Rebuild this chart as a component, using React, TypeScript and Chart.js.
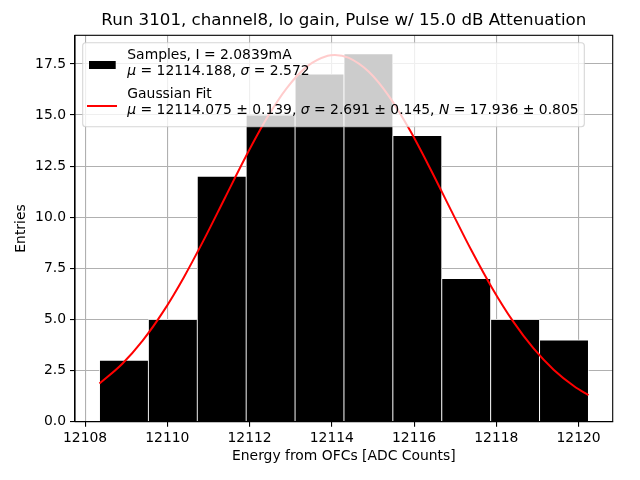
import React, { useEffect, useRef } from "react";
import { Chart, registerables } from "chart.js";

Chart.register(...registerables);

// Histogram bins (centers) and counts
const binCenters = [12108.945, 12110.134, 12111.323, 12112.512, 12113.701, 12114.89, 12116.079, 12117.268, 12118.457, 12119.646];
const binCounts = [3, 5, 12, 15, 17, 18, 14, 7, 5, 4];

// Gaussian fit curve points
const fitX = [12108.35, 12108.9, 12109.4, 12109.9, 12110.4, 12110.9, 12111.4, 12111.9, 12112.4, 12112.9, 12113.4, 12113.9, 12114.075, 12114.4, 12114.9, 12115.4, 12115.9, 12116.4, 12116.9, 12117.4, 12117.9, 12118.4, 12118.9, 12119.4, 12119.9, 12120.24];
const fitY = [1.866, 2.823, 3.966, 5.383, 7.059, 8.942, 10.944, 12.937, 14.777, 16.305, 17.38, 17.898, 17.936, 17.806, 17.113, 15.888, 14.251, 12.349, 10.338, 8.36, 6.531, 4.93, 3.595, 2.532, 1.723, 1.3];

const titleText = "Run 3101, channel8, lo gain, Pulse w/ 15.0 dB Attenuation";
const xTitle = "Energy from OFCs [ADC Counts]";
const yTitle = "Entries";
const xRange = [12107.755, 12120.83];
const yRange = [0, 18.9];

type Seg = { t: string; i?: boolean };
const legendSamples: Seg[][] = [
  [{ t: "Samples, I = 2.0839mA" }],
  [{ t: "μ", i: true }, { t: " = 12114.188, " }, { t: "σ", i: true }, { t: " = 2.572" }],
];
const legendFit: Seg[][] = [
  [{ t: "Gaussian Fit" }],
  [
    { t: "μ", i: true },
    { t: " = 12114.075 ± 0.139, " },
    { t: "σ", i: true },
    { t: " = 2.691 ± 0.145, " },
    { t: "N", i: true },
    { t: " = 17.936 ± 0.805" },
  ],
];

const FONT = "DejaVu Sans";
const FS = 13.9;

function drawSegs(ctx: CanvasRenderingContext2D, segs: Seg[], x: number, y: number) {
  let cx = x;
  for (const s of segs) {
    ctx.font = `${s.i ? "italic " : ""}${FS}px "${FONT}"`;
    ctx.fillText(s.t, cx, y);
    cx += ctx.measureText(s.t).width;
  }
}

const framePlugin = {
  id: "frameAndLegend",
  afterDraw(chart: any) {
    const ctx: CanvasRenderingContext2D = chart.ctx;
    const a = chart.chartArea;
    ctx.save();
    ctx.strokeStyle = "#000";
    ctx.lineWidth = 1.1;
    ctx.strokeRect(a.left, a.top, a.right - a.left, a.bottom - a.top);

    // legend box
    const bx = 82.7, by = 42.7, bw = 584.3 - 82.7, bh = 126.7 - 42.7, r = 3;
    ctx.beginPath();
    ctx.moveTo(bx + r, by);
    ctx.lineTo(bx + bw - r, by);
    ctx.arcTo(bx + bw, by, bx + bw, by + r, r);
    ctx.lineTo(bx + bw, by + bh - r);
    ctx.arcTo(bx + bw, by + bh, bx + bw - r, by + bh, r);
    ctx.lineTo(bx + r, by + bh);
    ctx.arcTo(bx, by + bh, bx, by + bh - r, r);
    ctx.lineTo(bx, by + r);
    ctx.arcTo(bx, by, bx + r, by, r);
    ctx.closePath();
    ctx.fillStyle = "rgba(255,255,255,0.8)";
    ctx.fill();
    ctx.strokeStyle = "rgba(204,204,204,0.8)";
    ctx.lineWidth = 1.1;
    ctx.stroke();

    // handles
    ctx.fillStyle = "#000";
    ctx.fillRect(89, 61, 26.7, 8);
    ctx.strokeStyle = "#ff0000";
    ctx.lineWidth = 2;
    ctx.beginPath();
    ctx.moveTo(87, 106);
    ctx.lineTo(117, 106);
    ctx.stroke();

    // texts
    ctx.fillStyle = "#000";
    ctx.textBaseline = "middle";
    ctx.textAlign = "left";
    const tx = 127.3;
    drawSegs(ctx, legendSamples[0], tx, 55);
    drawSegs(ctx, legendSamples[1], tx, 71.5);
    drawSegs(ctx, legendFit[0], tx, 94);
    drawSegs(ctx, legendFit[1], tx, 110.5);
    ctx.restore();
  },
};

export default function App() {
  const ref = useRef<HTMLCanvasElement | null>(null);
  useEffect(() => {
    if (!ref.current) return;
    Chart.defaults.font.family = FONT;
    const chart = new Chart(ref.current, {
      type: "bar",
      data: {
        datasets: [
          {
            type: "line",
            label: "Gaussian Fit",
            data: fitX.map((x, i) => ({ x, y: fitY[i] })),
            borderColor: "#ff0000",
            borderWidth: 2,
            pointRadius: 0,
            cubicInterpolationMode: "monotone",
            fill: false,
            order: 0,
          } as any,
          {
            type: "bar",
            label: "Samples",
            data: binCenters.map((x, i) => ({ x, y: binCounts[i] })),
            backgroundColor: "#000000",
            borderColor: "#ffffff",
            borderWidth: 0.8,
            barPercentage: 1,
            categoryPercentage: 1,
            order: 1,
          } as any,
        ],
      },
      options: {
        responsive: false,
        animation: false,
        layout: { padding: { left: 0, right: 27.3, top: 0, bottom: 0 } },
        plugins: {
          legend: { display: false },
          tooltip: { enabled: false },
          title: {
            display: true,
            text: titleText,
            fullSize: false,
            color: "#000",
            font: { family: FONT, size: 16.67, weight: "normal" },
            padding: { top: 11, bottom: 4.3 },
          },
        },
        scales: {
          x: {
            type: "linear",
            min: xRange[0],
            max: xRange[1],
            offset: false,
            z: 1,
            grid: { offset: false, color: "#b0b0b0", lineWidth: 1.1, tickColor: "#000", tickLength: 5, drawTicks: true },
            border: { display: true, color: "#000", width: 1.1 },
            ticks: {
              stepSize: 2,
              includeBounds: false,
              color: "#000",
              padding: 3,
              maxRotation: 0,
              font: { family: FONT, size: FS },
              callback: (v: any) => String(v),
            },
            title: {
              display: true,
              text: xTitle,
              color: "#000",
              font: { family: FONT, size: FS },
              padding: { top: 0, bottom: 15 },
            },
            afterFit: (s: any) => {
              s.height = 58.3;
            },
          },
          y: {
            type: "linear",
            min: yRange[0],
            max: yRange[1],
            z: 1,
            grid: { color: "#b0b0b0", lineWidth: 1.1, tickColor: "#000", tickLength: 5 },
            border: { display: true, color: "#000", width: 1.1 },
            ticks: {
              stepSize: 2.5,
              includeBounds: false,
              color: "#000",
              padding: 4,
              font: { family: FONT, size: FS },
              callback: (v: any) => Number(v).toFixed(1),
            },
            title: {
              display: true,
              text: yTitle,
              color: "#000",
              font: { family: FONT, size: FS },
              padding: { top: 13.4, bottom: 0 },
            },
            afterFit: (s: any) => {
              s.width = 75;
            },
          },
        },
      },
      plugins: [framePlugin],
    } as any);
    return () => chart.destroy();
  }, []);
  return (
    <div style={{ position: "fixed", left: 0, top: 0, width: 640, height: 480, background: "#fff" }}>
      <canvas ref={ref} width={640} height={480} style={{ width: 640, height: 480, display: "block" }} />
    </div>
  );
}
